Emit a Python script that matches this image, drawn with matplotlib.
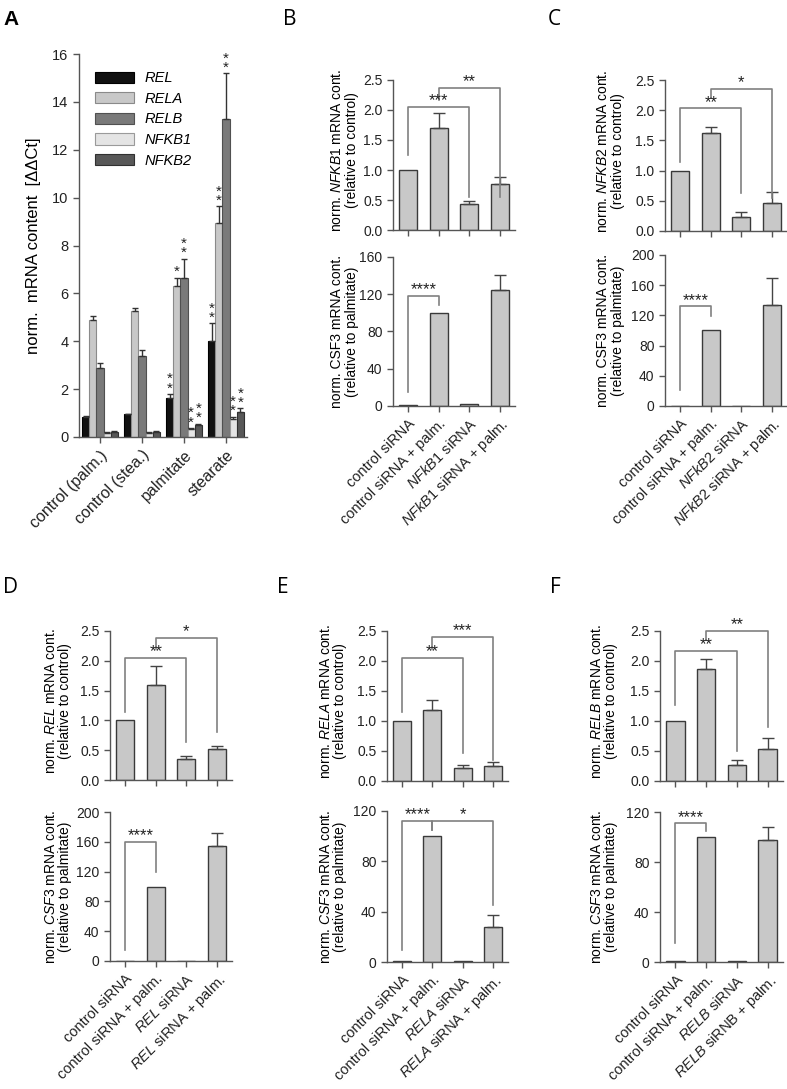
import matplotlib
matplotlib.use("Agg")
import matplotlib.pyplot as plt
import numpy as np

plt.rcParams['font.family'] = ['Liberation Sans', 'DejaVu Sans']
plt.rcParams['mathtext.fontset'] = 'custom'
plt.rcParams['mathtext.rm'] = 'Liberation Sans'
plt.rcParams['mathtext.it'] = 'Liberation Sans:italic'

# ---- panel A data ----
groups_a = ['control (palm.)', 'control (stea.)', 'palmitate', 'stearate']
genes_a = ['REL', 'RELA', 'RELB', 'NFKB1', 'NFKB2']
rel_mean = [0.85, 0.95, 1.65, 4.0]
rel_err = [0.02, 0.03, 0.15, 0.75]
rela_mean = [4.9, 5.25, 6.3, 8.95]
rela_err = [0.15, 0.15, 0.35, 0.7]
relb_mean = [2.9, 3.4, 6.65, 13.3]
relb_err = [0.2, 0.25, 0.8, 1.9]
nfkb1_mean = [0.15, 0.18, 0.35, 0.75]
nfkb1_err = [0.05, 0.03, 0.03, 0.1]
nfkb2_mean = [0.2, 0.22, 0.5, 1.05]
nfkb2_err = [0.03, 0.05, 0.05, 0.15]
stars_palm = ['**', '*', '**', '**', '**']
stars_stea = ['**', '**', '**', '**', '**']

# ---- knockdown panels B-F ----
b_top = [1.0, 1.7, 0.43, 0.77]
b_top_err = [0, 0.25, 0.05, 0.11]
b_csf3 = [1.5, 100, 2.0, 125]
b_csf3_err = [0, 0, 0, 16]
c_top = [1.0, 1.62, 0.23, 0.47]
c_top_err = [0, 0.11, 0.08, 0.17]
c_csf3 = [0.5, 100, 0.5, 134]
c_csf3_err = [0, 0, 0, 35]
d_top = [1.0, 1.6, 0.35, 0.52]
d_top_err = [0, 0.32, 0.05, 0.05]
d_csf3 = [0.5, 100, 0.5, 155]
d_csf3_err = [0, 0, 0, 17]
e_top = [1.0, 1.18, 0.22, 0.25]
e_top_err = [0, 0.17, 0.05, 0.07]
e_csf3 = [1.0, 100, 0.5, 28]
e_csf3_err = [0, 0, 0, 9]
f_top = [1.0, 1.87, 0.27, 0.53]
f_top_err = [0, 0.16, 0.08, 0.19]
f_csf3 = [1.0, 100, 1.0, 98]
f_csf3_err = [0, 0, 0, 10]

W, H = 787, 1089
fig = plt.figure(figsize=(W / 100, H / 100), dpi=100)


def px_axes(l, t, r, b):
    return fig.add_axes([l / W, 1 - b / H, (r - l) / W, (b - t) / H])


def style(ax, fs=10):
    for s in ['top', 'right']:
        ax.spines[s].set_visible(False)
    for s in ['left', 'bottom']:
        ax.spines[s].set_color('#555555')
        ax.spines[s].set_linewidth(1.0)
    ax.tick_params(colors='#555555', labelcolor='#222222', labelsize=fs,
                   length=4, width=1)


# ---------------- panel A ----------------
ax = px_axes(79, 54, 247, 437)
style(ax, 10.5)
x = np.arange(len(groups_a))
w = 0.17
series = [(rel_mean, rel_err, '#111111', '#000000'),
          (rela_mean, rela_err, '#c8c8c8', '#8a8a8a'),
          (relb_mean, relb_err, '#7a7a7a', '#505050'),
          (nfkb1_mean, nfkb1_err, '#e4e4e4', '#9a9a9a'),
          (nfkb2_mean, nfkb2_err, '#585858', '#303030')]
for i, (vals, errs, fc, ec) in enumerate(series):
    pos = x + (i - 2) * w
    ax.bar(pos, vals, w, color=fc, edgecolor=ec, lw=0.8, label=genes_a[i])
    ax.errorbar(pos, vals, yerr=[np.zeros(4), errs], fmt='none',
                ecolor='#333333', elinewidth=1, capsize=2.5, capthick=1)
    for g, stars in ((2, stars_palm), (3, stars_stea)):
        # stars stacked vertically above the error bar
        ax.annotate('\n'.join(stars[i]), (pos[g], vals[g] + errs[g]),
                    xytext=(0, -1), textcoords='offset points',
                    ha='center', va='bottom', fontsize=11, linespacing=0.55,
                    color='#222222')
ax.set_xlim(-0.5, 3.5)
ax.set_ylim(0, 16)
ax.set_yticks(np.arange(0, 17, 2))
ax.set_xticks(x)
ax.set_xticklabels(groups_a, rotation=45, ha='right', rotation_mode='anchor',
                   fontsize=11.5)
ax.set_ylabel('norm.  mRNA content  [ΔΔCt]', fontsize=12, labelpad=8)
ax.legend(loc='upper left', bbox_to_anchor=(0.06, 0.97), frameon=False,
          prop={'style': 'italic', 'size': 10.5}, handlelength=2.7,
          handleheight=0.8, labelspacing=0.45, handletextpad=0.7,
          borderaxespad=0)
fig.text(3 / W, 1 - 25 / H, 'A', fontsize=15, fontweight='bold', va='baseline')


def bracket(ax, x1, x2, y, y1, y2, label):
    ax.plot([x1, x1, x2, x2], [y1, y, y, y2], color='#808080', lw=1.2,
            clip_on=False)
    ax.annotate(label, ((x1 + x2) / 2, y), xytext=(0, -1),
                textcoords='offset points', ha='center', va='bottom',
                fontsize=12, color='#222222')


def bars(ax, vals, errs):
    xs = np.arange(len(vals))
    ax.bar(xs, vals, 0.6, color='#c8c8c8', edgecolor='#3a3a3a', lw=1.0)
    for xi, v, e in zip(xs, vals, errs):
        if e > 0:
            ax.errorbar(xi, v, yerr=[[0], [e]], fmt='none', ecolor='#444444',
                        elinewidth=1, capsize=4.5, capthick=1)
    ax.set_xlim(-0.5, 3.5)
    ax.set_xticks(xs)


def knock_panel(letter, lpos, top_box, bot_box, top_vals, top_errs, csf_vals,
                csf_errs, top_label, bot_label, xlabels, csf_max, csf_step,
                top_br, bot_br, lab_x):
    at = px_axes(*top_box)
    style(at)
    bars(at, top_vals, top_errs)
    at.set_ylim(0, 2.5)
    at.set_yticks(np.arange(0, 2.51, 0.5))
    at.set_yticklabels(['%.1f' % v for v in np.arange(0, 2.51, 0.5)])
    at.set_xticklabels([])
    at.set_ylabel(top_label, fontsize=10, linespacing=1.05)
    at.yaxis.set_label_coords(lab_x, 0.53)
    for br in top_br:
        bracket(at, *br)

    ab = px_axes(*bot_box)
    style(ab)
    bars(ab, csf_vals, csf_errs)
    ab.set_ylim(0, csf_max)
    ab.set_yticks(np.arange(0, csf_max + 1, csf_step))
    ab.set_xticklabels(xlabels, rotation=45, ha='right', rotation_mode='anchor',
                       fontsize=10.5)
    ab.set_ylabel(bot_label, fontsize=10, linespacing=1.05)
    ab.yaxis.set_label_coords(lab_x, 0.5)
    for br in bot_br:
        bracket(ab, *br)

    fig.text(lpos[0] / W, 1 - lpos[1] / H, letter, fontsize=15,
             family='Open Sans', va='baseline')


ctrl = ['control siRNA', 'control siRNA + palm.']
csf_plain = 'norm. CSF3 mRNA cont.\n(relative to palmitate)'
csf_it = 'norm. $\\it{CSF3}$ mRNA cont.\n(relative to palmitate)'

knock_panel('B', (283, 25), (393, 80, 515, 230), (393, 257, 515, 406),
            b_top, b_top_err, b_csf3, b_csf3_err,
            'norm. $\\it{NFKB1}$ mRNA cont.\n(relative to control)', csf_plain,
            ctrl + ['$\\it{NFkB1}$ siRNA', '$\\it{NFkB1}$ siRNA + palm.'],
            160, 40,
            [(0, 2, 2.05, 1.25, 0.55, '***'), (1, 3, 2.37, 2.17, 0.55, '**')],
            [(0, 1, 118, 15, 108, '****')], -0.28)

knock_panel('C', (548, 25), (665, 80, 787, 231), (665, 255, 787, 406),
            c_top, c_top_err, c_csf3, c_csf3_err,
            'norm. $\\it{NFKB2}$ mRNA cont.\n(relative to control)', csf_plain,
            ctrl + ['$\\it{NFkB2}$ siRNA', '$\\it{NFkB2}$ siRNA + palm.'],
            200, 40,
            [(0, 2, 2.03, 1.15, 0.63, '**'), (1, 3, 2.35, 2.2, 0.55, '*')],
            [(0, 1, 132, 21, 119, '****')], -0.33)

knock_panel('D', (3, 593), (110, 631, 232, 780), (110, 812, 232, 961),
            d_top, d_top_err, d_csf3, d_csf3_err,
            'norm. $\\it{REL}$ mRNA cont.\n(relative to control)', csf_it,
            ctrl + ['$\\it{REL}$ siRNA', '$\\it{REL}$ siRNA + palm.'],
            200, 40,
            [(0, 2, 2.05, 1.14, 0.64, '**'), (1, 3, 2.38, 2.2, 0.8, '*')],
            [(0, 1, 160, 15, 120, '****')], -0.31)

knock_panel('E', (277, 593), (387, 631, 508, 781), (387, 811, 508, 962),
            e_top, e_top_err, e_csf3, e_csf3_err,
            'norm. $\\it{RELA}$ mRNA cont.\n(relative to control)', csf_it,
            ctrl + ['$\\it{RELA}$ siRNA', '$\\it{RELA}$ siRNA + palm.'],
            120, 40,
            [(0, 2, 2.05, 1.15, 0.47, '**'), (1, 3, 2.4, 2.2, 0.35, '***')],
            [(0, 1, 112, 9.5, 105, '****'), (1, 3, 112, 105, 45, '*')], -0.33)

knock_panel('F', (550, 593), (660, 631, 783, 781), (660, 812, 783, 962),
            f_top, f_top_err, f_csf3, f_csf3_err,
            'norm. $\\it{RELB}$ mRNA cont.\n(relative to control)', csf_it,
            ctrl + ['$\\it{RELB}$ siRNA', '$\\it{RELB}$ siRNB + palm.'],
            120, 40,
            [(0, 2, 2.17, 1.27, 0.5, '**'), (1, 3, 2.5, 2.35, 0.9, '**')],
            [(0, 1, 111, 15, 105, '****')], -0.34)

fig.savefig('out.png', dpi=100)
